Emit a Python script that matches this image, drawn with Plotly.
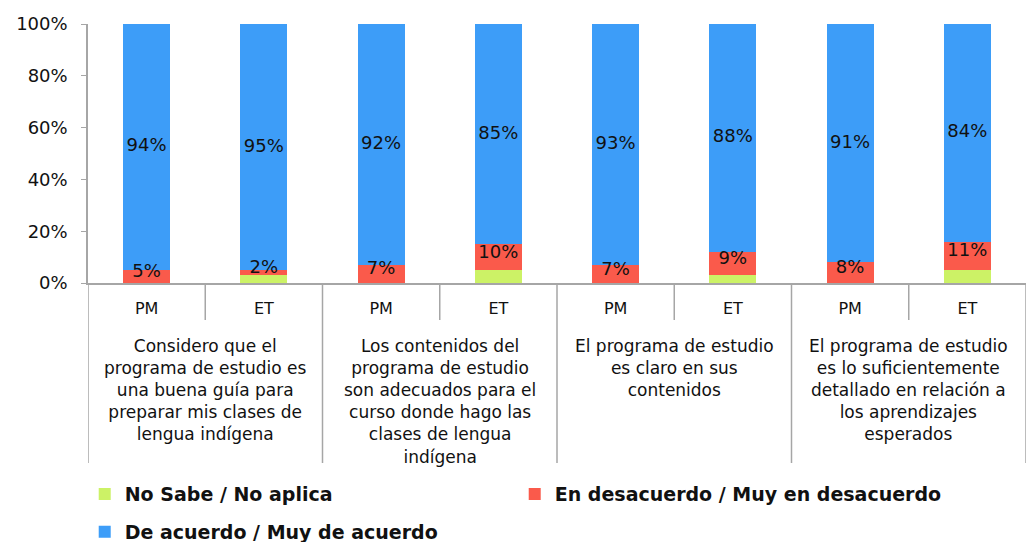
import plotly.graph_objects as go

groups = [
    "Considero que el<br>programa de estudio es<br>una buena guía para<br>preparar mis clases de<br>lengua indígena",
    "Los contenidos del<br>programa de estudio<br>son adecuados para el<br>curso donde hago las<br>clases de lengua<br>indígena",
    "El programa de estudio<br>es claro en sus<br>contenidos",
    "El programa de estudio<br>es lo suficientemente<br>detallado en relación a<br>los aprendizajes<br>esperados",
]
sub = ["PM", "ET"]

no_sabe = [0, 3, 0, 5, 0, 3, 0, 5]
desacuerdo = [5, 2, 7, 10, 7, 9, 8, 11]
acuerdo = [94, 95, 92, 85, 93, 88, 91, 84]

ticklabels = [s for _ in groups for s in sub]
xpos = list(range(len(ticklabels)))

GREEN, RED, BLUE = "#CCF266", "#FA5A4B", "#3D9DF8"
AXIS = "#A6A6A6"
FONT = "DejaVu Sans"

totals = [a + b + c for a, b, c in zip(no_sabe, desacuerdo, acuerdo)]
ns_n = [v / t * 100 for v, t in zip(no_sabe, totals)]
de_n = [v / t * 100 for v, t in zip(desacuerdo, totals)]
ac_n = [v / t * 100 for v, t in zip(acuerdo, totals)]

fig = go.Figure()
fig.add_trace(go.Bar(x=xpos, y=ns_n, name="No Sabe / No aplica", marker_color=GREEN,
                     marker_line_width=0, legend="legend"))
fig.add_trace(go.Bar(x=xpos, y=de_n, name="En desacuerdo / Muy en desacuerdo", marker_color=RED,
                     marker_line_width=0, legend="legend"))
fig.add_trace(go.Bar(x=xpos, y=ac_n, name="De acuerdo / Muy de acuerdo", marker_color=BLUE,
                     marker_line_width=0, legend="legend2"))

# data labels (drawn on top of every bar)
red_y = [g + d / 2 + 1.5 for g, d in zip(ns_n, de_n)]
blue_y = [g + d + a / 2 for g, d, a in zip(ns_n, de_n, ac_n)]
for ys, vals in ((red_y, desacuerdo), (blue_y, acuerdo)):
    fig.add_trace(go.Scatter(x=xpos, y=ys, mode="text", text=[f"{v}%" for v in vals],
                             textposition="middle center", showlegend=False, hoverinfo="skip",
                             textfont=dict(family=FONT, size=18, color="#111"), cliponaxis=False))

# group labels and category dividers
for i, g in enumerate(groups):
    fig.add_annotation(x=2 * i + 0.5, xref="x", y=-0.197, yref="paper", yanchor="top",
                       text=g, showarrow=False, align="center",
                       font=dict(family=FONT, size=17, color="#111"))
for i in range(len(groups)):
    fig.add_shape(type="line", xref="x", yref="paper", x0=2 * i + 0.5, x1=2 * i + 0.5,
                  y0=0, y1=-37 / 259, line=dict(color=AXIS, width=1.5))
for i in range(len(groups) + 1):
    fig.add_shape(type="line", xref="x", yref="paper", x0=2 * i - 0.5, x1=2 * i - 0.5,
                  y0=0, y1=-180 / 259, line=dict(color=AXIS, width=1.5))

fig.update_layout(
    barmode="stack", bargap=0.6,
    width=1026, height=542,
    margin=dict(l=88, r=0, t=24, b=259, autoexpand=False),
    plot_bgcolor="white", paper_bgcolor="white",
    font=dict(family=FONT, size=16, color="#111"),
    showlegend=True,
    legend=dict(orientation="h", x=-0.0035, xanchor="left", y=-0.815, yanchor="middle",
                entrywidth=385, entrywidthmode="pixels", traceorder="normal",
                font=dict(family=FONT, size=19, color="#111", weight="bold")),
    legend2=dict(orientation="h", x=-0.0035, xanchor="left", y=-0.961, yanchor="middle",
                 font=dict(family=FONT, size=19, color="#111", weight="bold")),
)
fig.update_yaxes(range=[0, 100], tickvals=[0, 20, 40, 60, 80, 100],
                 ticktext=["0%", "20%", "40%", "60%", "80%", "100%"],
                 showgrid=False, showline=True, linecolor=AXIS, linewidth=1.5,
                 ticks="outside", ticklen=5, tickcolor=AXIS, ticklabelstandoff=10,
                 automargin=False,
                 tickfont=dict(family=FONT, size=18, color="#111"), zeroline=False)
fig.update_xaxes(range=[-0.5, 7.5], tickvals=xpos, ticktext=ticklabels,
                 showgrid=False, showline=True, linecolor=AXIS, linewidth=1.5,
                 ticks="", ticklabelstandoff=10, zeroline=False, automargin=False,
                 tickfont=dict(family=FONT, size=16, color="#111"))

fig.write_html("out.html", config={"displayModeBar": False},
               post_script="document.body.style.margin='0';")
